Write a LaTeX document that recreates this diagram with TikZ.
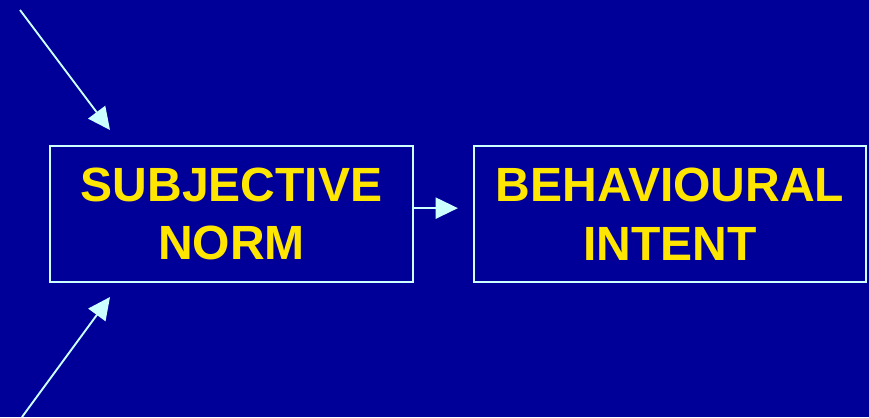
\documentclass[tikz,border=0pt]{standalone}
\usepackage{fontspec}
\setmainfont{Liberation Sans}
\usetikzlibrary{arrows.meta}
\definecolor{slidebg}{HTML}{000099}
\definecolor{framecol}{HTML}{CCFFFF}
\definecolor{textcol}{HTML}{FFE600}
\tikzset{
  factor/.style={draw=framecol, line width=1.5pt, minimum height=4.08cm,
    align=center, text=textcol, font=\fontsize{41}{50}\selectfont\bfseries, inner sep=0pt},
  link/.style={draw=framecol, line width=1.6pt, -{Triangle[length=19pt,width=18pt]}}
}
\begin{document}
\begin{tikzpicture}[x=0.03cm, y=-0.03cm]
    
    \fill[slidebg] (0,0) rectangle (869,417);
    \useasboundingbox (0,0) rectangle (869,417);
    
    \node[factor, minimum width=10.89cm] (subj) at (231.5,214) {SUBJECTIVE\\NORM};
    \node[factor, minimum width=11.76cm] (intent) at (670,214) {BEHAVIOURAL\\INTENT};
    
    \coordinate (topin) at (20,10);
    \coordinate (topend) at (110,130);
    \coordinate (botin) at (22,417);
    \coordinate (botend) at (110,297);
    
    \draw[link] (topin) -- (topend);
    \draw[link] (botin) -- (botend);
    \draw[link, shorten >=13pt] ([yshift=5pt]subj.east) -- ([yshift=5pt]intent.west);
    
\end{tikzpicture}
\end{document}
